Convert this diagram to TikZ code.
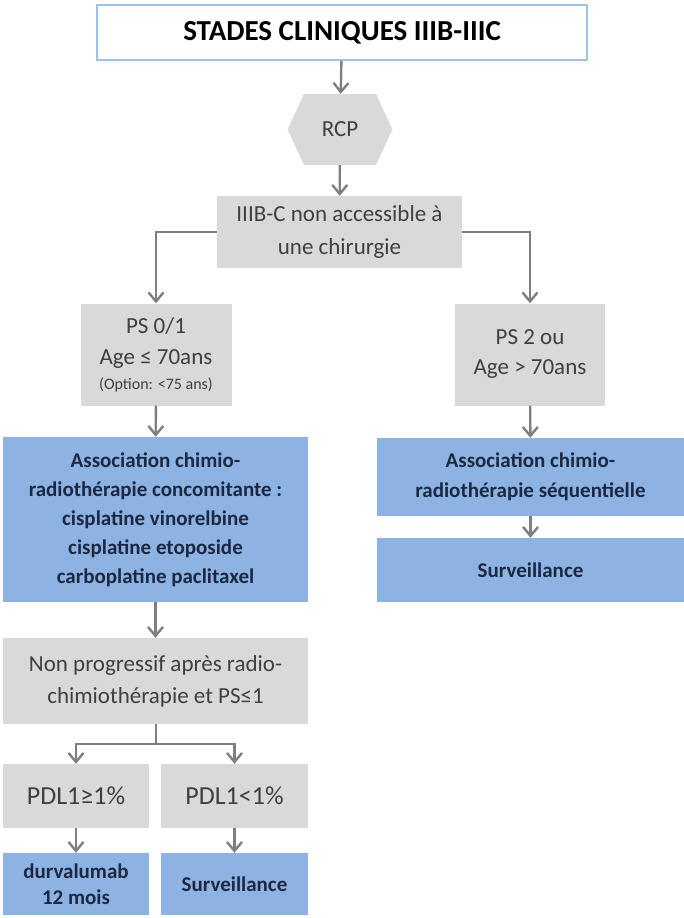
\documentclass[tikz,border=0pt]{standalone}
\usepackage{fontspec}
\setmainfont{Carlito}
\usetikzlibrary{arrows.meta,shapes.symbols}
\definecolor{boxgray}{HTML}{D9D9D9}
\definecolor{boxblue}{HTML}{8DB3E2}
\definecolor{titleline}{HTML}{9DC3E6}
\definecolor{arrowgray}{HTML}{7F7F7F}
\definecolor{graytext}{HTML}{3F3F3F}
\definecolor{bluetext}{HTML}{1C2841}
\begin{document}
\begin{tikzpicture}[x=1pt,y=-1pt,
  graybox/.style={fill=boxgray,draw=none,inner sep=0pt,align=center,text=graytext,font=\fontsize{23}{32}\selectfont},
  bluebox/.style={fill=boxblue,draw=none,inner sep=0pt,align=center,text=bluetext,font=\bfseries\fontsize{21}{29}\selectfont},
  conn/.style={draw=arrowgray,line width=2.4pt,-{Straight Barb[length=9pt,width=15pt,line width=2.4pt]}},
  plain/.style={draw=arrowgray,line width=2.4pt}]
\useasboundingbox (0,0) rectangle (684,918);
\node[draw=titleline,line width=2pt,fill=white,minimum width=490pt,minimum height=55pt,inner sep=0pt,font=\bfseries\fontsize{29}{34}\selectfont] (title) at (342,32.5) {STADES CLINIQUES IIIB-IIIC};
\node[signal,signal to=west and east,signal pointer angle=130,fill=boxgray,minimum width=105pt,minimum height=71pt,inner sep=0pt,text=graytext,font=\fontsize{23}{28}\selectfont] (rcp) at (340,129.5) {RCP};
\node[graybox,minimum width=245pt,minimum height=72pt,font=\fontsize{23}{33}\selectfont] (surg) at (339.5,232) {IIIB-C non accessible à\\une chirurgie};
\node[graybox,minimum width=151pt,minimum height=102pt,font=\fontsize{23}{31}\selectfont] (ps01) at (156,354.5) {PS 0/1\\Age ≤ 70ans\\[-6pt]{\fontsize{16}{19}\selectfont (Option: <75 ans)}};
\node[graybox,minimum width=150pt,minimum height=102pt,font=\fontsize{23}{30}\selectfont] (ps2) at (530,354.5) {PS 2 ou\\Age > 70ans};
\node[bluebox,minimum width=305pt,minimum height=165pt] (chemo) at (155.5,519.5) {Association chimio-\\radiothérapie concomitante :\\cisplatine vinorelbine\\cisplatine etoposide\\carboplatine paclitaxel};
\node[bluebox,minimum width=307pt,minimum height=78pt,font=\bfseries\fontsize{21}{30}\selectfont] (seq) at (530.5,477) {Association chimio-\\radiothérapie séquentielle};
\node[bluebox,minimum width=307pt,minimum height=64pt] (surv1) at (530.5,570) {Surveillance};
\node[graybox,minimum width=305pt,minimum height=86pt] (nonprog) at (155.5,681) {Non progressif après radio-\\chimiothérapie et PS≤1};
\node[graybox,minimum width=146pt,minimum height=64pt,font=\fontsize{26}{30}\selectfont] (pdlp) at (76,796) {PDL1≥1\%};
\node[graybox,minimum width=147pt,minimum height=64pt,font=\fontsize{26}{30}\selectfont] (pdln) at (234.5,796) {PDL1<1\%};
\node[bluebox,minimum width=146pt,minimum height=62pt,font=\bfseries\fontsize{21}{26}\selectfont] (durva) at (76,884) {durvalumab\\12 mois};
\node[bluebox,minimum width=147pt,minimum height=62pt] (surv2) at (234.5,884) {Surveillance};
\coordinate (split) at (156,744);
\draw[conn] (title) -- (rcp);
\draw[conn] (rcp) -- (surg);
\draw[conn] (surg.west) -| (ps01.north);
\draw[conn] (surg.east) -| (ps2.north);
\draw[conn] (ps01) -- (chemo);
\draw[conn] (ps2) -- (seq);
\draw[conn] (seq) -- (surv1);
\draw[conn] (chemo) -- (nonprog);
\draw[plain] (nonprog.south -| split) -- (split);
\draw[conn] (split) -| (pdlp.north);
\draw[conn] (split) -| (pdln.north);
\draw[conn] (pdlp) -- (durva);
\draw[conn] (pdln) -- (surv2);
\end{tikzpicture}
\end{document}
